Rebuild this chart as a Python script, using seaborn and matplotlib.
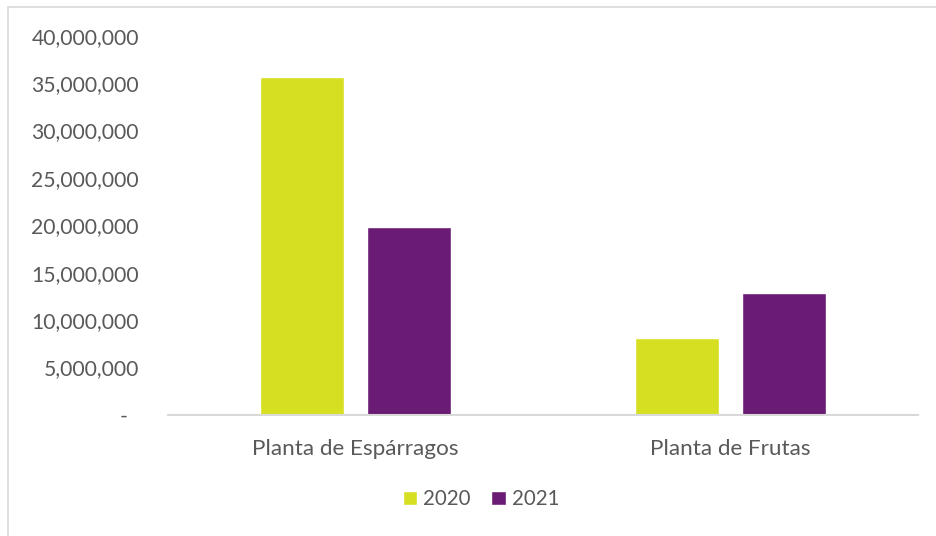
import matplotlib
matplotlib.use("Agg")
import matplotlib.pyplot as plt
from matplotlib.patches import Rectangle
from matplotlib.ticker import FuncFormatter
import seaborn as sns
import pandas as pd

# Data
plantas = ["Planta de Espárragos", "Planta de Frutas"]
anios = ["2020", "2021"]
valores_2020 = [35_630_000, 8_120_000]
valores_2021 = [19_860_000, 12_830_000]

colores = {"2020": "#D6DF22", "2021": "#6A1B73"}
gris_texto = "#595959"

df = pd.DataFrame({
    "Planta": plantas * 2,
    "Año": [anios[0]] * len(plantas) + [anios[1]] * len(plantas),
    "Valor": valores_2020 + valores_2021,
})

sns.set_theme(style="white")
plt.rcParams["font.family"] = ["Lato", "DejaVu Sans"]

fig = plt.figure(figsize=(9.36, 5.36), dpi=100)
ax = fig.add_axes([168 / 936, 1 - 415 / 536, 750 / 936, (415 - 35.7) / 536])

sns.barplot(data=df, x="Planta", y="Valor", hue="Año", palette=colores,
            width=0.5707, gap=0.215, saturation=1, ax=ax, legend=True)

ax.set_xlim(-0.5, 1.5)
ax.set_ylim(0, 40_000_000)
ax.set_yticks(range(0, 40_000_001, 5_000_000))
ax.yaxis.set_major_formatter(FuncFormatter(lambda v, p: "-  " if v == 0 else f"{int(v):,}"))
ax.tick_params(axis="y", length=0, pad=21, labelsize=15.2, labelcolor=gris_texto)
ax.tick_params(axis="x", length=0, pad=17.5, labelsize=16.2, labelcolor=gris_texto)
ax.set_xlabel("")
ax.set_ylabel("")
for s in ("left", "right", "top"):
    ax.spines[s].set_visible(False)
ax.spines["bottom"].set_color("#d9d9d9")
ax.spines["bottom"].set_linewidth(1.5)
ax.grid(False)

handles, labels = ax.get_legend_handles_labels()
ax.legend(handles, labels, loc="center", bbox_to_anchor=(481 / 936, 1 - 499 / 536),
          bbox_transform=fig.transFigure, ncol=2, frameon=False,
          fontsize=14.8, labelcolor=gris_texto, handlelength=0.7, handleheight=0.7,
          handletextpad=0.3, columnspacing=1.0)

# Chart-area border
fig.patches.append(Rectangle((8 / 936, -0.05), 1.1, 1 - 7 / 536 + 0.05,
                             transform=fig.transFigure, fill=False,
                             edgecolor="#d9d9d9", linewidth=1.2))

fig.savefig("out.png", dpi=100)
